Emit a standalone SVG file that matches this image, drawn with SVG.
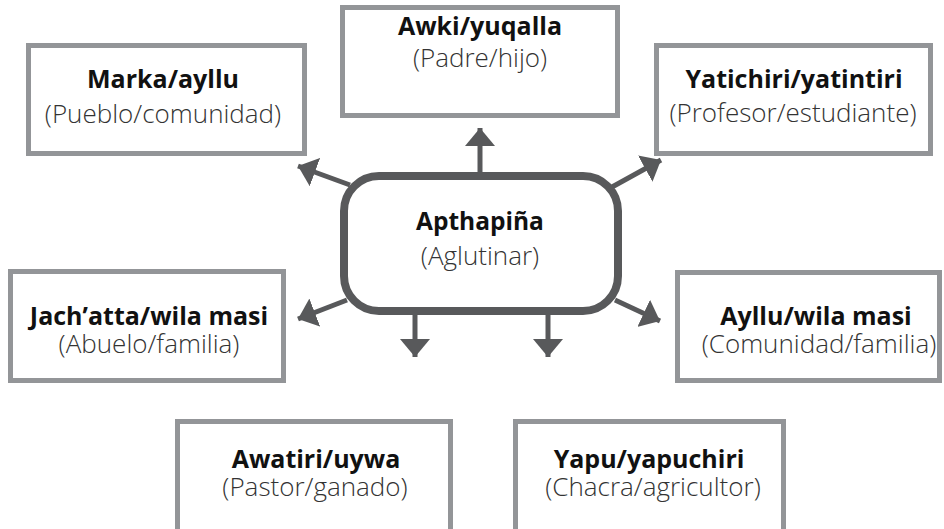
<svg xmlns="http://www.w3.org/2000/svg" width="944" height="529" viewBox="0 0 944 529">
<defs>
<style>
.box{fill:#ffffff;stroke:#939598;stroke-width:5}
.center{fill:#ffffff;stroke:#58595b;stroke-width:8}
.t{font-family:"Open Sans","Liberation Sans",sans-serif;font-weight:700;font-size:25px;fill:#111111;text-anchor:middle}
.s{font-family:"Open Sans","Liberation Sans",sans-serif;font-weight:300;font-size:26px;fill:#333333;text-anchor:middle}
.c{stroke:#58595b;stroke-width:5;fill:none}
</style>
<marker id="ah" viewBox="0 0 18 30" refX="18" refY="15" markerWidth="18" markerHeight="30" markerUnits="userSpaceOnUse" orient="auto">
<path d="M0,0 L18,15 L0,30 Z" fill="#58595b"/>
</marker>
</defs>
<rect width="944" height="529" fill="#ffffff"/>
<g id="connectors">
<line class="c" x1="480" y1="176" x2="480" y2="128" marker-end="url(#ah)"/>
<line class="c" x1="350" y1="185" x2="298" y2="166" marker-end="url(#ah)"/>
<line class="c" x1="612" y1="187" x2="661" y2="160" marker-end="url(#ah)"/>
<line class="c" x1="347" y1="300" x2="298" y2="319" marker-end="url(#ah)"/>
<line class="c" x1="615" y1="300" x2="660" y2="321" marker-end="url(#ah)"/>
<line class="c" x1="415" y1="312" x2="415" y2="357" marker-end="url(#ah)"/>
<line class="c" x1="548" y1="312" x2="548" y2="357" marker-end="url(#ah)"/>
</g>
<g id="center">
<rect class="center" x="344" y="176" width="274" height="135" rx="35"/>
<text class="t" x="480" y="230" style="font-size:24.5px">Apthapiña</text>
<text class="s" x="480" y="265">(Aglutinar)</text>
</g>
<g id="marka">
<rect class="box" x="28.5" y="45.5" width="276" height="108"/>
<text class="t" x="163" y="88">Marka/ayllu</text>
<text class="s" x="163" y="123">(Pueblo/comunidad)</text>
</g>
<g id="awki">
<rect class="box" x="342.5" y="7.5" width="275" height="108"/>
<text class="t" x="480" y="35">Awki/yuqalla</text>
<text class="s" x="480" y="67">(Padre/hijo)</text>
</g>
<g id="yatichiri">
<rect class="box" x="656.5" y="45.5" width="274" height="108"/>
<text class="t" x="794" y="88">Yatichiri/yatintiri</text>
<text class="s" x="793" y="122">(Profesor/estudiante)</text>
</g>
<g id="jachatta">
<rect class="box" x="10.5" y="271.5" width="273" height="109"/>
<text class="t" x="149" y="325">Jach’atta/wila masi</text>
<text class="s" x="149" y="353">(Abuelo/familia)</text>
</g>
<g id="ayllu">
<rect class="box" x="677.5" y="272.5" width="262" height="108"/>
<text class="t" x="816" y="325">Ayllu/wila masi</text>
<text class="s" x="819" y="353">(Comunidad/familia)</text>
</g>
<g id="awatiri">
<rect class="box" x="177.5" y="421.5" width="273" height="110"/>
<text class="t" x="316" y="468">Awatiri/uywa</text>
<text class="s" x="315" y="496">(Pastor/ganado)</text>
</g>
<g id="yapu">
<rect class="box" x="515.5" y="421.5" width="268" height="110"/>
<text class="t" x="649" y="468">Yapu/yapuchiri</text>
<text class="s" x="653" y="496">(Chacra/agricultor)</text>
</g>
</svg>
